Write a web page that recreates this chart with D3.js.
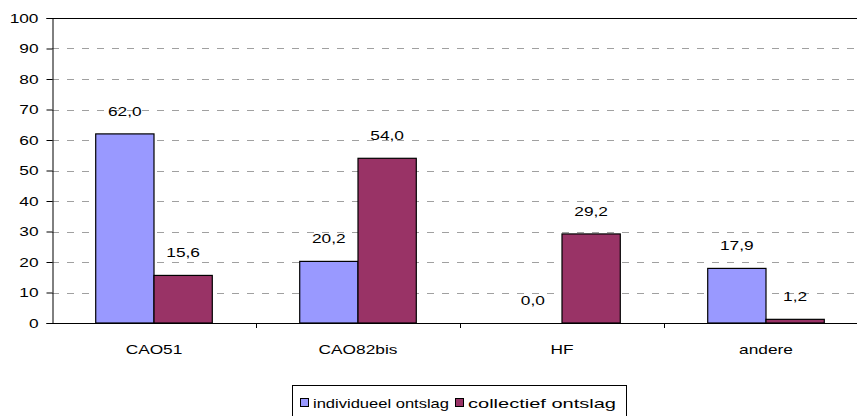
<!DOCTYPE html>
<html>
<head>
<meta charset="utf-8">
<script src="https://cdn.jsdelivr.net/npm/d3@7/dist/d3.min.js"></script>
<style>
  html, body { margin: 0; padding: 0; background: #fff; }
  svg { display: block; font-family: "Liberation Sans", Arial, sans-serif; }
</style>
</head>
<body>
<svg id="chart" width="857" height="416"></svg>
<script>
// Ontslagtypes per categorie (percentages)
const categories = ["CAO51", "CAO82bis", "HF", "andere"];
const seriesNames = ["individueel ontslag", "collectief ontslag"];
const individueel = [62.0, 20.2, 0.0, 17.9];
const collectief = [15.6, 54.0, 29.2, 1.2];
const yTicks = [0, 10, 20, 30, 40, 50, 60, 70, 80, 90, 100];
const colors = ["#9999FF", "#993366"];

const FONT = 13;
const WIDEN = 1.33; // glyphs are drawn horizontally widened

const svg = d3.select("#chart");
const plot = { left: 52, right: 868, top: 18, bottom: 323 };

// widen a text selection horizontally by a factor (or to a fixed width)
function widen(sel, factor, fixed) {
  sel.each(function () {
    const w = fixed || this.getComputedTextLength() * factor;
    d3.select(this).attr("textLength", w).attr("lengthAdjust", "spacingAndGlyphs");
  });
}

const x = d3.scaleBand().domain(categories).range([plot.left, plot.right]);
const barW = x.bandwidth() / 3.5; // 150% gap between groups
const y = d3.scaleLinear().domain([0, 100]).range([plot.bottom, plot.top]);

// dashed gridlines
svg.append("g").selectAll("line").data(yTicks.filter(d => d > 0 && d < 100)).join("line")
  .attr("x1", plot.left).attr("x2", plot.right)
  .attr("y1", d => Math.round(y(d)) + 0.5).attr("y2", d => Math.round(y(d)) + 0.5)
  .attr("stroke", "#a0a0a0").attr("stroke-dasharray", "7,8");

// plot border (top and right)
svg.append("path")
  .attr("d", `M${plot.left},${plot.top + 0.5}H${plot.right + 0.5}V${plot.bottom}`)
  .attr("fill", "none").attr("stroke", "#000").attr("stroke-width", 1);

const data = categories.map((c, i) => ({ cat: c, vals: [individueel[i], collectief[i]] }));

// bars
const groups = svg.append("g").selectAll("g").data(data).join("g")
  .attr("transform", d => `translate(${x(d.cat) + (x.bandwidth() - 2 * barW) / 2},0)`);

groups.selectAll("rect")
  .data(d => d.vals.map((v, k) => ({ v, k })).filter(e => e.v > 0))
  .join("rect")
  .attr("x", d => d.k * barW)
  .attr("y", d => y(d.v))
  .attr("width", barW)
  .attr("height", d => plot.bottom - y(d.v))
  .attr("fill", d => colors[d.k])
  .attr("stroke", "#000").attr("stroke-width", 1.2);

// value labels
const fmt = v => v.toFixed(1).replace(".", ",");
const valueLabels = groups.selectAll("text").data(d => d.vals.map((v, k) => ({ v, k }))).join("text")
  .attr("x", d => d.k * barW + barW / 2)
  .attr("y", d => y(d.v) - 18)
  .attr("text-anchor", "middle")
  .attr("font-size", FONT)
  .attr("fill", "#000")
  .text(d => fmt(d.v));
widen(valueLabels, WIDEN);

// y axis
const yAxis = d3.axisLeft(y).tickValues(yTicks).tickSize(6).tickPadding(8).tickFormat(d3.format("d"));
const gy = svg.append("g").attr("transform", `translate(${plot.left + 0.5},0)`).call(yAxis);
gy.select(".domain").attr("stroke", "#000");
gy.selectAll(".tick line").attr("stroke", "#000");
const yLabels = gy.selectAll(".tick text").attr("font-size", FONT).attr("fill", "#000")
  .attr("font-family", "Liberation Sans, Arial, sans-serif");
widen(yLabels, WIDEN);

// x axis with ticks at category boundaries
svg.append("line").attr("x1", plot.left).attr("x2", plot.right)
  .attr("y1", plot.bottom + 0.5).attr("y2", plot.bottom + 0.5).attr("stroke", "#000");
const boundaries = categories.map(c => x(c)).concat([plot.right]);
svg.append("g").selectAll("line").data(boundaries.slice(1)).join("line")
  .attr("x1", d => Math.round(d) + 0.5).attr("x2", d => Math.round(d) + 0.5)
  .attr("y1", plot.bottom).attr("y2", plot.bottom + 5).attr("stroke", "#000");
const xLabels = svg.append("g").selectAll("text").data(categories).join("text")
  .attr("x", d => x(d) + x.bandwidth() / 2)
  .attr("y", plot.bottom + 30.5)
  .attr("text-anchor", "middle").attr("font-size", FONT).attr("fill", "#000")
  .text(d => d);
widen(xLabels, WIDEN);

// legend
const lg = svg.append("g");
lg.append("rect").attr("x", 292.5).attr("y", 385.5).attr("width", 334).attr("height", 32)
  .attr("fill", "#fff").attr("stroke", "#000");
const legendItems = [
  { swatch: 300, text: 313, width: 136 },
  { swatch: 455, text: 468, width: 148 }
];
seriesNames.forEach((name, i) => {
  const it = legendItems[i];
  lg.append("rect").attr("x", it.swatch + 0.5).attr("y", 398.5).attr("width", 8).attr("height", 8)
    .attr("fill", colors[i]).attr("stroke", "#000");
  const t = lg.append("text").attr("x", it.text).attr("y", 407.5)
    .attr("font-size", FONT).attr("fill", "#000").text(name);
  widen(t, 1, it.width);
});
</script>
</body>
</html>
